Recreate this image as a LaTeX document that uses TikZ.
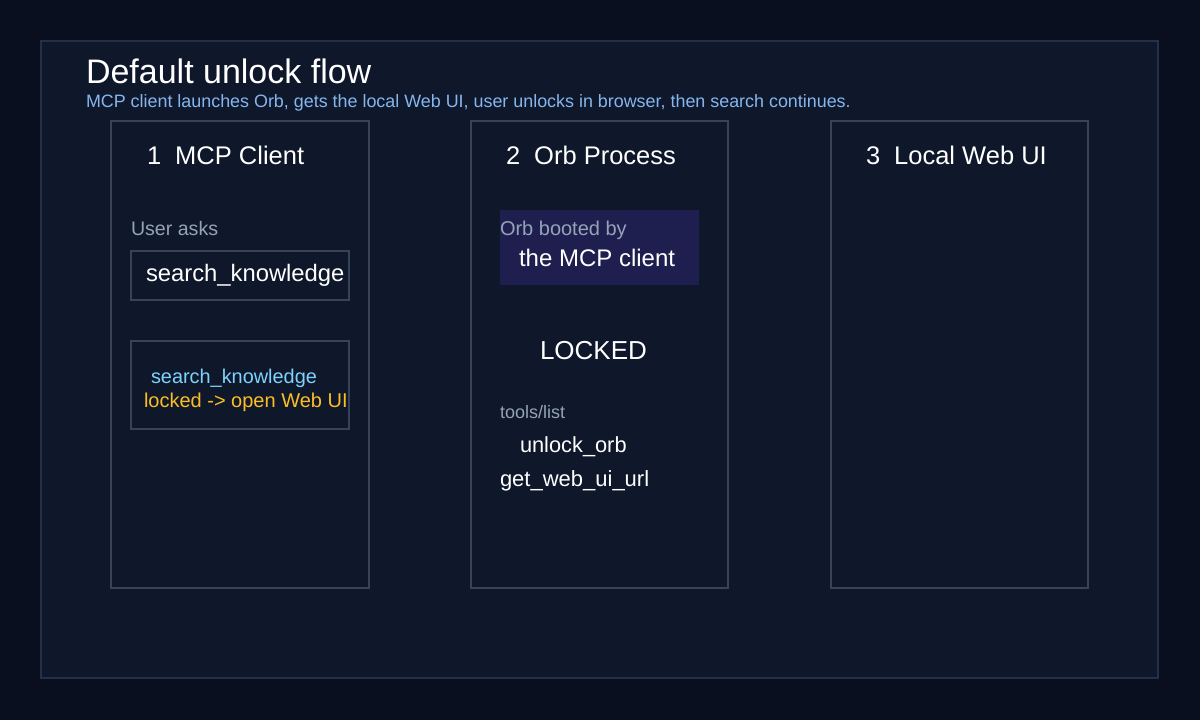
\documentclass[tikz,border=0pt]{standalone}
\usepackage{fontspec}
\setmainfont{Liberation Sans}
\definecolor{bgc}{HTML}{0A0F1F}
\definecolor{panelc}{HTML}{0F172A}
\definecolor{panelb}{HTML}{243049}
\definecolor{colb}{HTML}{364358}
\definecolor{graytx}{HTML}{94A3B8}
\definecolor{subtx}{HTML}{86B6EE}
\definecolor{cyantx}{HTML}{7DD3FC}
\definecolor{ambertx}{HTML}{FBBF24}
\definecolor{bootfill}{HTML}{1E1F4E}
\tikzset{
  txt/.style={anchor=base west, inner sep=0pt, outer sep=0pt},
  column/.style={draw=colb, line width=2pt, fill=panelc},
  smallbox/.style={draw=colb, line width=1.6pt, fill=panelc},
}
\newcommand{\fs}[1]{\fontsize{#1}{#1}\selectfont}
\begin{document}
\begin{tikzpicture}[x=1pt,y=-1pt]
\fill[bgc] (0,0) rectangle (1200,720);
\useasboundingbox (0,0) rectangle (1200,720);
\draw[panelb, line width=2pt, fill=panelc] (41,41) rectangle (1158,678);
\node[txt, white] (title) at (86,83) {\fs{34}Default unlock flow};
\node[txt, subtx] (sub) at (86,107) {\fs{17.9}MCP client launches Orb, gets the local Web UI, user unlocks in browser, then search continues.};
% columns
\draw[column] (111,121) rectangle (369,588);
\draw[column] (471,121) rectangle (728,588);
\draw[column] (831,121) rectangle (1088,588);
\node[txt, white] (h1) at (147,164) {\fs{25.5}1\hspace{0.55em}MCP Client};
\node[txt, white] (h2) at (506,164) {\fs{25.5}2\hspace{0.55em}Orb Process};
\node[txt, white] (h3) at (866,164) {\fs{25.5}3\hspace{0.55em}Local Web UI};
% column 1
\node[txt, graytx] (ask) at (131,235) {\fs{19.6}User asks};
\draw[smallbox] (131,251) rectangle (349,300);
\node[txt, white] (sk1) at (146,281) {\fs{23.8}search\_knowledge};
\draw[smallbox] (131,341) rectangle (349,429);
\node[txt, cyantx] (sk2) at (151,383) {\fs{19.9}search\_knowledge};
\node[txt, ambertx] (lk) at (144,407) {\fs{20}locked -> open Web UI};
% column 2
\fill[bootfill] (500,210) rectangle (699,285);
\node[txt, graytx] (boot) at (500,235) {\fs{20}Orb booted by};
\node[txt, white] (mcpc) at (519,266) {\fs{24}the MCP client};
\node[txt, white] (locked) at (540,359) {\fs{26}LOCKED};
\node[txt, graytx] (tl) at (500,418) {\fs{18}tools/list};
\node[txt, white] (uo) at (520,452) {\fs{21.8}unlock\_orb};
\node[txt, white] (gw) at (500,486) {\fs{22}get\_web\_ui\_url};
\end{tikzpicture}
\end{document}
